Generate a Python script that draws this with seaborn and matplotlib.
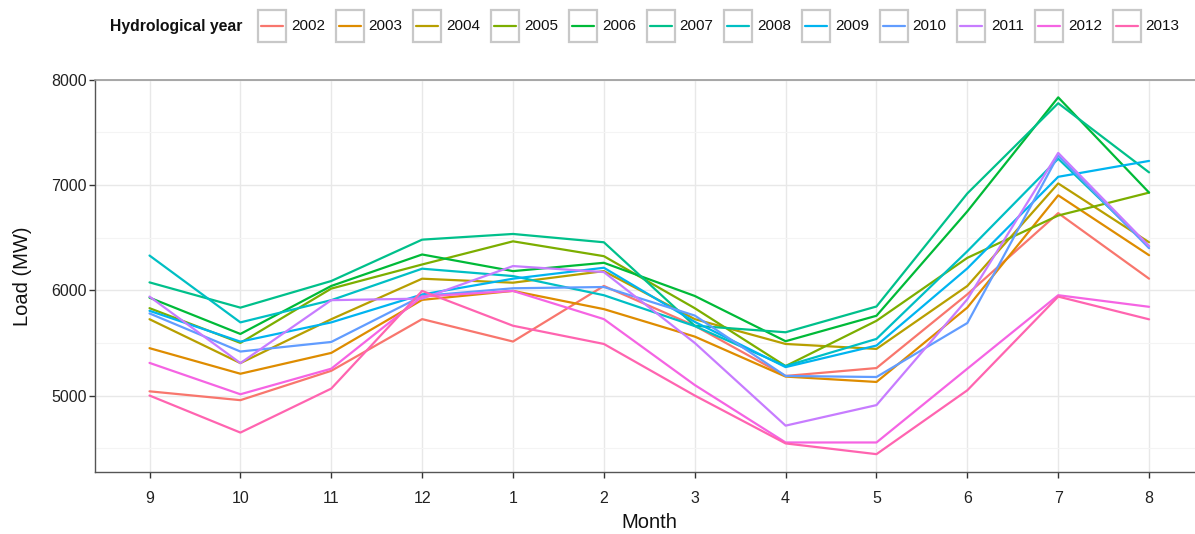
import matplotlib
matplotlib.use("Agg")
import matplotlib.pyplot as plt
from matplotlib.patches import Rectangle
from matplotlib.lines import Line2D
from matplotlib.ticker import MultipleLocator
import numpy as np
import pandas as pd
import seaborn as sns

# Hydrological year runs September -> August
months = ["9", "10", "11", "12", "1", "2", "3", "4", "5", "6", "7", "8"]
years = ["2002", "2003", "2004", "2005", "2006", "2007",
         "2008", "2009", "2010", "2011", "2012", "2013"]

# Monthly load (MW) per hydrological year
load_2002 = [5040, 4956, 5235, 5726, 5513, 6041, 5663, 5186, 5261, 5962, 6733, 6110]
load_2003 = [5450, 5207, 5405, 5909, 5994, 5821, 5560, 5180, 5129, 5836, 6902, 6333]
load_2004 = [5725, 5308, 5725, 6110, 6072, 6182, 5726, 5490, 5443, 6041, 7015, 6456]
load_2005 = [5830, 5500, 6016, 6245, 6465, 6324, 5830, 5280, 5710, 6308, 6710, 6928]
load_2006 = [5930, 5585, 6041, 6340, 6182, 6261, 5946, 5516, 5758, 6750, 7833, 6928]
load_2007 = [6075, 5835, 6088, 6481, 6535, 6456, 5663, 5601, 5846, 6920, 7777, 7120]
load_2008 = [6330, 5695, 5906, 6205, 6135, 5953, 5660, 5280, 5538, 6371, 7250, 6418]
load_2009 = [5805, 5512, 5695, 5960, 6110, 6214, 5700, 5270, 5475, 6208, 7078, 7229]
load_2010 = [5780, 5418, 5509, 5946, 6019, 6031, 5760, 5186, 5176, 5689, 7280, 6400]
load_2011 = [5940, 5308, 5906, 5921, 6230, 6173, 5500, 4714, 4909, 5915, 7305, 6420]
load_2012 = [5310, 5012, 5255, 5940, 5994, 5726, 5100, 4554, 4554, 5255, 5953, 5843]
load_2013 = [5000, 4648, 5066, 5994, 5663, 5490, 5000, 4545, 4443, 5050, 5940, 5724]

series = [load_2002, load_2003, load_2004, load_2005, load_2006, load_2007,
          load_2008, load_2009, load_2010, load_2011, load_2012, load_2013]

colors = ["#F8766D", "#DE8C00", "#B79F00", "#7CAE00", "#00BA38", "#00C08B",
          "#00BFC4", "#00B4F0", "#619CFF", "#C77CFF", "#F564E3", "#FF64B0"]

rows = []
for yr, vals in zip(years, series):
    for i, (m, v) in enumerate(zip(months, vals)):
        rows.append({"pos": i, "Month": m, "Load": v, "year": yr})
df = pd.DataFrame(rows)

sns.set_theme(style="white")
plt.rcParams["font.family"] = ["Liberation Sans", "DejaVu Sans"]

W, H = 1195, 534
fig = plt.figure(figsize=(W / 100, H / 100), dpi=100)

# panel in pixel terms: left 95, right 1203.6 (runs past the edge), top 79.5, bottom 472
left, right, top, bottom = 95, 1203.6, 79.5, 472
ax = fig.add_axes([left / W, 1 - bottom / H, (right - left) / W, (bottom - top) / H])

sns.lineplot(data=df, x="pos", y="Load", hue="year", palette=colors,
             hue_order=years, linewidth=1.6, legend=False, ax=ax, zorder=3)

# scales with ggplot-like expansion
ax.set_xlim(-0.6, len(months) - 1 + 0.6)
lo, hi = df["Load"].min(), df["Load"].max()
pad = 0.05 * (hi - lo)
ax.set_ylim(lo - pad, hi + pad)

ax.set_xticks(range(len(months)))
ax.set_xticklabels(months)
ax.yaxis.set_major_locator(MultipleLocator(1000))
ax.yaxis.set_minor_locator(MultipleLocator(500))

ax.grid(which="major", color="#E8E8E8", linewidth=1.0, zorder=0)
ax.grid(which="minor", axis="y", color="#F4F4F4", linewidth=0.8, zorder=0)
ax.set_axisbelow(True)

for side in ["left", "bottom"]:
    ax.spines[side].set_color("#555555")
    ax.spines[side].set_linewidth(1.0)
ax.spines["top"].set_color("#9A9A9A")
ax.spines["top"].set_linewidth(1.2)
ax.spines["right"].set_visible(False)

ax.tick_params(axis="both", which="major", direction="out", length=4.5,
               width=1.0, color="#333333", labelsize=11.5, labelcolor="#222222",
               left=True, bottom=True)
ax.tick_params(axis="x", which="major", pad=9)
ax.tick_params(axis="y", which="major", pad=1.5)
ax.tick_params(axis="y", which="minor", left=False)

ax.set_xlabel("Month", fontsize=14.5, color="#111111", labelpad=5)
ax.set_ylabel("Load (MW)", fontsize=14.5, color="#111111", labelpad=14)

# legend row across the top
def fx(px):
    return px / W

def fy(py):
    return 1 - py / H

fig.text(fx(110), fy(26), "Hydrological year", fontsize=11.3, fontweight="bold",
         ha="left", va="center", color="#111111")

first_label, step = 308, 77.7
box_w, box_h = 28, 31
for i, (yr, c) in enumerate(zip(years, colors)):
    lx = first_label + i * step
    kx = lx - 36
    fig.add_artist(Rectangle((fx(kx - box_w / 2), fy(26 + box_h / 2)),
                             box_w / W, box_h / H, transform=fig.transFigure,
                             facecolor="white", edgecolor="#C8C8C8", linewidth=1.6))
    fig.add_artist(Line2D([fx(kx - 11), fx(kx + 11)], [fy(26), fy(26)],
                          transform=fig.transFigure, color=c, linewidth=1.6))
    fig.text(fx(lx), fy(26), yr, fontsize=11, ha="center", va="center",
             color="#111111")

fig.savefig("out.png", dpi=100)
